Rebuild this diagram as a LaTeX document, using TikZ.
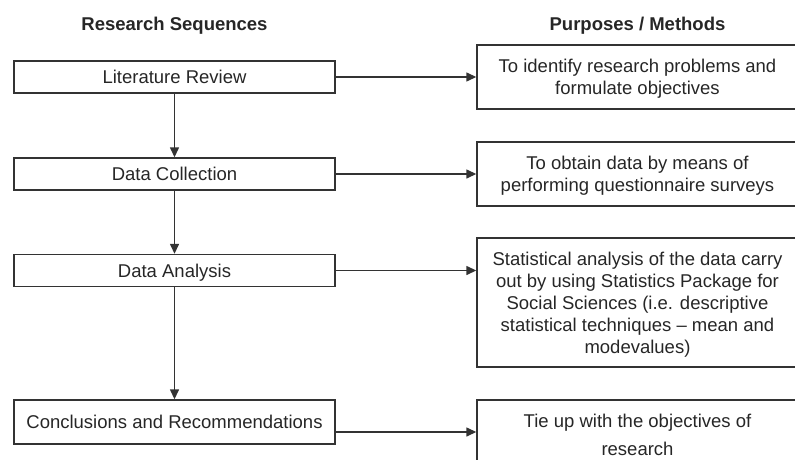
\documentclass[tikz,border=0pt]{standalone}
\usepackage{fontspec}
\setmainfont{Liberation Sans}
\usetikzlibrary{arrows.meta, positioning}

\begin{document}
\begin{tikzpicture}[
    x=1pt, y=-1pt,
    >={Triangle[length=10pt, width=9pt]},
    font=\fontsize{18.5}{22}\selectfont,
    heading/.style={anchor=base, font=\fontsize{18.5}{22}\selectfont\bfseries, text=black!85},
    stage/.style={draw=black!80, line width=1.4pt, minimum width=321pt, minimum height=32pt, inner sep=0pt, text height=13.2pt, text depth=0pt, text=black!85},
    purpose/.style={draw=black!80, line width=1.4pt, minimum width=321pt, minimum height=64pt, align=center, inner sep=0pt, text depth=0pt, text=black!85},
    arrow/.style={->, line width=1.4pt, black!80}
  ]
    \useasboundingbox (0,0) rectangle (795,460);
    % column headings
    \node[heading] (hseq) at (174.5,31) {Research Sequences};
    \node[heading] (hpur) at (637.5,31) {Purposes / Methods};
    % research sequence
    \node[stage] (lit) at (174.5,77) {Literature Review};
    \node[stage] (col) at (174.5,174) {Data Collection};
    \node[stage] (ana) at (174.5,270.5) {Data Analysis};
    \node[stage, minimum height=44pt] (con) at (174.5,422) {Conclusions and Recommendations};
    % purposes / methods
    \node[purpose] (pm1) at (637.5,77)
    {To identify research problems and\\ formulate objectives};
    \node[purpose] (pm2) at (637.5,174)
    {To obtain data by means of\\ performing questionnaire surveys};
    \node[purpose, minimum height=129pt] (pm3) at (637.5,302.5)
    {Statistical analysis of the data carry\\
     out by using Statistics Package for\\
     Social Sciences (i.e. descriptive\\
     statistical techniques -- mean and\\
     modevalues)};
    \node[purpose, minimum height=70.5pt] (pm4) at (637.5,435.25)
    {Tie up with the objectives of\\[6pt] research};
    \draw[arrow] (lit) -- (col);
    \draw[arrow] (col) -- (ana);
    \draw[arrow] (ana) -- (con);
    \draw[arrow] (lit) -- (pm1);
    \draw[arrow] (col) -- (pm2);
    \draw[arrow] (ana.east) -- (ana.east -| pm3.west);
    \draw[arrow] ([yshift=-10pt]con.east) -- ([yshift=-10pt]con.east -| pm4.west);
  \end{tikzpicture}
\end{document}
